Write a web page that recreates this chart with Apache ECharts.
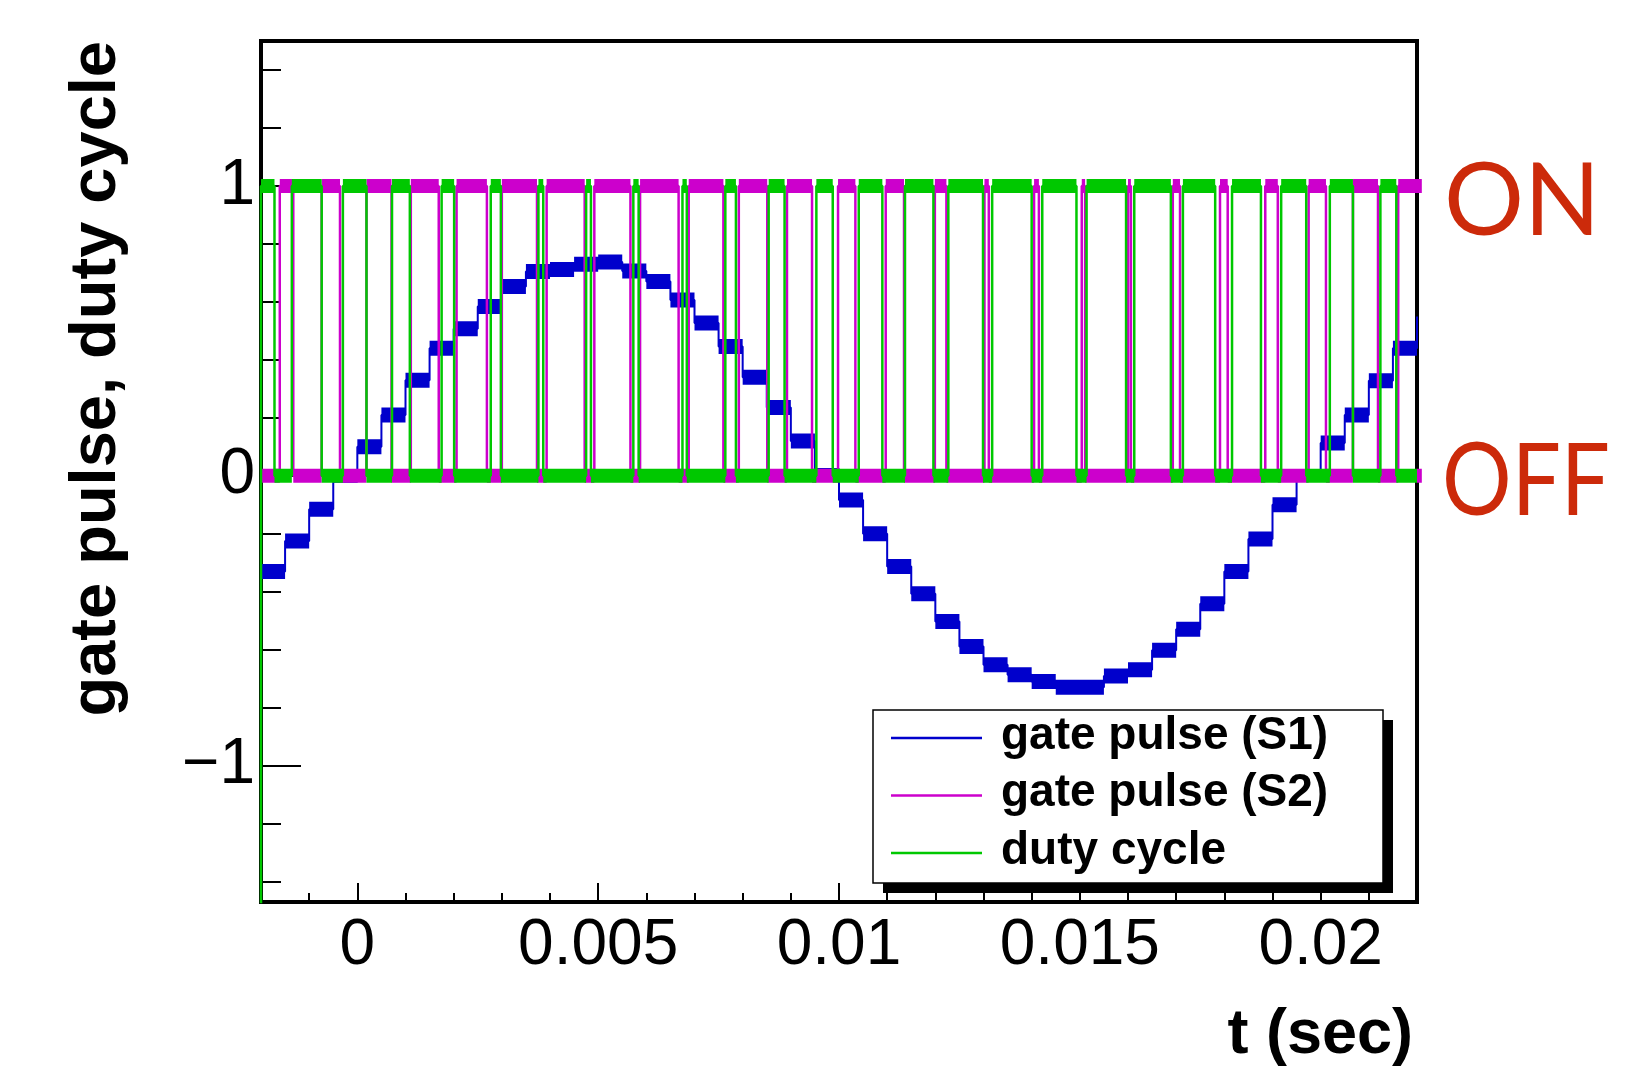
<!DOCTYPE html>
<html>
<head>
<meta charset="utf-8">
<script src="https://cdn.jsdelivr.net/npm/echarts@6/dist/echarts.min.js"></script>
<style>
  html, body { margin: 0; padding: 0; background: #fff; }
  #chart { width: 1629px; height: 1068px; }
</style>
</head>
<body>
<div id="chart"></div>
<script>
// all times in seconds
const T_START = -0.002
const T_END = 0.022

// gate pulse S1: staircase sine, start time of each step and its level
const s1StepTimes = [
  -0.002, -0.0015, -0.001, -0.0005, 0, 0.0005, 0.001, 0.0015, 0.002, 0.0025,
  0.003, 0.0035, 0.004, 0.0045, 0.005, 0.0055, 0.006, 0.0065, 0.007, 0.0075,
  0.008, 0.0085, 0.009, 0.0095, 0.01, 0.0105, 0.011, 0.0115, 0.012, 0.0125,
  0.013, 0.0135, 0.014, 0.0145, 0.015, 0.0155, 0.016, 0.0165, 0.017, 0.0175,
  0.018, 0.0185, 0.019, 0.0195, 0.02, 0.0205, 0.021, 0.0215, 0.022
]
const s1Levels = [
  -0.33, -0.225, -0.115, -0.02, 0.10, 0.21, 0.33, 0.44, 0.507, 0.584,
  0.653, 0.705, 0.712, 0.73, 0.738, 0.707, 0.67, 0.607, 0.527, 0.446,
  0.34, 0.236, 0.12, 0.024, -0.083, -0.20, -0.313, -0.407, -0.502, -0.589,
  -0.652, -0.686, -0.709, -0.729, -0.729, -0.69, -0.669, -0.602, -0.529, -0.441,
  -0.33, -0.218, -0.10, 0.02, 0.113, 0.21, 0.328, 0.44, 0.55
]

// gate pulse S2: [rise, fall] of every ON interval
const s2OnIntervals = [
  [-0.00161, -0.00133], [-0.00074, -0.00036], [0.00019, 0.00071], [0.00111, 0.00169],
  [0.00206, 0.00269], [0.00300, 0.00373], [0.00393, 0.00472], [0.00492, 0.00567],
  [0.00587, 0.00667], [0.00688, 0.00760], [0.00792, 0.00851], [0.00892, 0.00944],
  [0.00998, 0.01034], [0.01097, 0.01135], [0.01199, 0.01223], [0.01302, 0.01311],
  [0.01405, 0.01415], [0.01504, 0.01511], [0.01600, 0.01606], [0.01693, 0.01708],
  [0.01791, 0.01807], [0.01885, 0.01911], [0.01975, 0.02011], [0.02067, 0.02119],
  [0.02161, 0.0221]
]

// duty cycle: [rise, fall] of every ON interval
const dutyOnIntervals = [
  [-0.0020, -0.00172], [-0.00136, -0.00074], [-0.00030, 0.00019], [0.00072, 0.00109],
  [0.00175, 0.00201], [0.00277, 0.00298], [0.00376, 0.00386], [0.00475, 0.00485],
  [0.00573, 0.00584], [0.00675, 0.00684], [0.00764, 0.00786], [0.00854, 0.00887],
  [0.00953, 0.00987], [0.01041, 0.01090], [0.01137, 0.01196], [0.01227, 0.01299],
  [0.01318, 0.01400], [0.01422, 0.01493], [0.01514, 0.01596], [0.01613, 0.01689],
  [0.01714, 0.01781], [0.01816, 0.01876], [0.01918, 0.01970], [0.02019, 0.02067],
  [0.02124, 0.02157]
]
const dutyFirstValue = -1.6   // trace enters from below the frame at the left edge

const xMajorTicks = [0, 0.005, 0.01, 0.015, 0.02]
const xMinorTicks = [-0.001, 0.001, 0.002, 0.003, 0.004, 0.006, 0.007, 0.008, 0.009,
  0.011, 0.012, 0.013, 0.014, 0.016, 0.017, 0.018, 0.019, 0.021]
const yMajorTicks = [-1, 0, 1]
const yMinorTicks = [-1.4, -1.2, -0.8, -0.6, -0.4, -0.2, 0.2, 0.4, 0.6, 0.8, 1.2, 1.4]

const C_S1 = '#0000cc'
const C_S2 = '#cc00cc'
const C_DUTY = '#00c800'
const FONT = '"Liberation Sans", Arial, Helvetica, sans-serif'

// thin trace with vertical edges
function pulseTrace(on, first) {
  const pts = []
  if (first !== undefined) pts.push([T_START, first])
  pts.push([T_START, 0])
  on.forEach(([a, b]) => { pts.push([a, 0], [a, 1], [b, 1], [b, 0]) })
  pts.push([T_END, 0])
  return pts
}
// thick (noisy looking) flat parts only
function pulseBands(on) {
  const pts = []
  let prev = T_START
  on.forEach(([a, b]) => {
    if (a > prev) pts.push([prev, 0], [a, 0], [a, '-'])
    pts.push([a, 1], [b, 1], [b, '-'])
    prev = b
  })
  pts.push([prev, 0], [T_END, 0])
  return pts
}
function stairTrace() {
  const pts = []
  s1StepTimes.forEach((t, i) => {
    const end = i + 1 < s1StepTimes.length ? s1StepTimes[i + 1] : T_END
    pts.push([t, s1Levels[i]], [end, s1Levels[i]])
  })
  return pts
}
function stairBands() {
  const pts = []
  s1StepTimes.forEach((t, i) => {
    const end = i + 1 < s1StepTimes.length ? s1StepTimes[i + 1] : T_END
    if (Math.abs(s1Levels[i]) < 0.05 || end <= t) return
    pts.push([t, s1Levels[i]], [end, s1Levels[i]], [end, '-'])
  })
  return pts
}

function lineSeries(name, data, color, width) {
  return {
    name: name, type: 'line', data: data,
    showSymbol: false, symbol: 'none', connectNulls: false,
    animation: false, silent: true, clip: true,
    lineStyle: { color: color, width: width }
  }
}

function valueAxis(min, max, pos, tickLen, ticks, label) {
  return {
    type: 'value', min: min, max: max, position: pos,
    axisLine: { show: false, onZero: false }, splitLine: { show: false },
    axisTick: { show: true, inside: true, length: tickLen, lineStyle: { color: '#000', width: 2 }, customValues: ticks },
    axisLabel: label ? Object.assign({ show: true, customValues: ticks, color: '#000', fontFamily: FONT }, label) : { show: false }
  }
}

const myChart = echarts.init(document.getElementById('chart'))

const legendTop = 710, legendLeft = 873, legendW = 510, legendH = 173
const legendRows = [
  ['gate pulse (S1)', C_S1], ['gate pulse (S2)', C_S2], ['duty cycle', C_DUTY]
]
const legendGraphics = [
  { type: 'rect', z: 100, shape: { x: legendLeft + 10, y: legendTop + 10, width: legendW, height: legendH },
    style: { fill: '#000' } },
  { type: 'rect', z: 101, shape: { x: legendLeft, y: legendTop, width: legendW, height: legendH },
    style: { fill: '#fff', stroke: '#000', lineWidth: 1.5 } }
]
legendRows.forEach(([label, color], i) => {
  const y = legendTop + 28 + i * 57.5
  legendGraphics.push({ type: 'line', z: 102, shape: { x1: 891, y1: y, x2: 982, y2: y },
    style: { stroke: color, lineWidth: 2.5 } })
  legendGraphics.push({ type: 'text', z: 102, x: 1001, y: y - 2,
    style: { text: label, fill: '#000', font: 'bold 46px ' + FONT, verticalAlign: 'middle' } })
})

const option = {
  backgroundColor: '#fff',
  animation: false,
  grid: { left: 261, right: 212, top: 41, bottom: 166, show: true, borderColor: '#000', borderWidth: 4, backgroundColor: 'transparent' },
  xAxis: [
    valueAxis(T_START, T_END, 'bottom', 19, xMajorTicks, { margin: 12, fontSize: 64, formatter: v => String(v) }),
    valueAxis(T_START, T_END, 'bottom', 9, xMinorTicks, null)
  ],
  yAxis: [
    valueAxis(-1.47, 1.5, 'left', 40, yMajorTicks, { margin: 6, fontSize: 64, formatter: v => String(v).replace('-', '\u2212') }),
    valueAxis(-1.47, 1.5, 'left', 20, yMinorTicks, null)
  ],
  series: [
    lineSeries('gate pulse (S1)', stairTrace(), C_S1, 2),
    lineSeries('s1 band', stairBands(), C_S1, 15),
    lineSeries('gate pulse (S2)', pulseTrace(s2OnIntervals), C_S2, 2.5),
    lineSeries('s2 band', pulseBands(s2OnIntervals), C_S2, 14),
    lineSeries('duty cycle', pulseTrace(dutyOnIntervals, dutyFirstValue), C_DUTY, 2.5),
    lineSeries('duty band', pulseBands(dutyOnIntervals), C_DUTY, 14)
  ],
  graphic: [
    { type: 'text', x: 97, y: 41, rotation: Math.PI / 2,
      style: { text: 'gate pulse, duty cycle', fill: '#000', font: 'bold 65px ' + FONT, align: 'right', verticalAlign: 'middle' } },
    { type: 'text', x: 1413, y: 1036,
      style: { text: 't (sec)', fill: '#000', font: 'bold 63px ' + FONT, align: 'right', verticalAlign: 'middle' } },
    { type: 'text', x: 1444, y: 203,
      style: { text: 'ON', fill: '#cc2a0a', font: '100px Lato, "Open Sans", sans-serif', align: 'left', verticalAlign: 'middle' } },
    { type: 'text', x: 1442, y: 483, scaleX: 0.87,
      style: { text: 'OFF', fill: '#cc2a0a', font: '100px Lato, "Open Sans", sans-serif', align: 'left', verticalAlign: 'middle' } }
  ].concat(legendGraphics)
}

myChart.setOption(option)
window.onresize = function () {
  myChart.resize()
}
</script>
</body>
</html>
